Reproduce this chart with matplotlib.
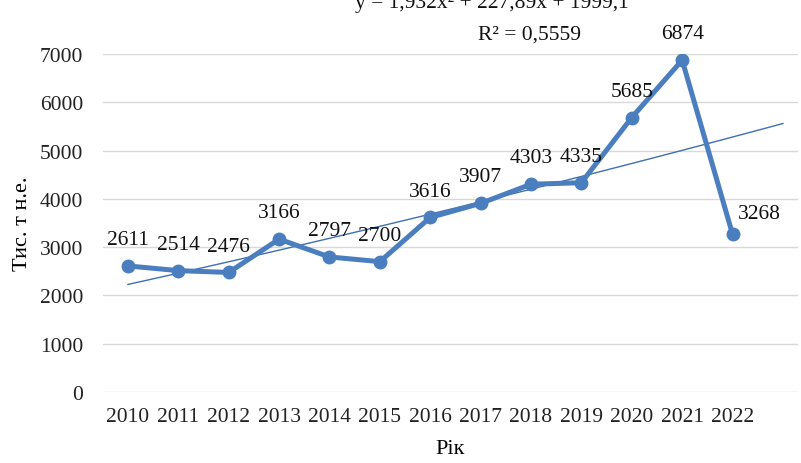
import numpy as np
import matplotlib
matplotlib.use('Agg')
import matplotlib.pyplot as plt

years = ['2010', '2011', '2012', '2013', '2014', '2015', '2016',
         '2017', '2018', '2019', '2020', '2021', '2022']
values = [2611, 2514, 2476, 3166, 2797, 2700, 3616, 3907, 4303, 4335, 5685, 6874, 3268]
yticks = [0, 1000, 2000, 3000, 4000, 5000, 6000, 7000]

plt.rcParams['font.family'] = ['Liberation Serif', 'DejaVu Serif']

fig = plt.figure(figsize=(8.01, 4.64), dpi=100)
ax = fig.add_axes([0.1283, 0.153, 0.868, 0.7284])

x = np.arange(len(years))
line_color = '#4a7ebf'

# polynomial trendline (order 2), x = 1..n as in Excel, one period forward
coef = np.polyfit(x + 1, values, 2)
xt = np.linspace(0, len(years), 100)
ax.plot(xt, np.polyval(coef, xt + 1), color='#3f6fb0', lw=1.0, zorder=2)

ax.plot(x, values, color=line_color, lw=3.6, marker='o', markersize=9, zorder=3)

for i, v in enumerate(values):
    if i == len(values) - 1:
        ax.annotate(str(v), (i, v), xytext=(19, 15), textcoords='offset points',
                    ha='center', va='center', fontsize=15.5, color='#111111')
    else:
        ax.annotate(str(v), (i, v), xytext=(0, 19), textcoords='offset points',
                    ha='center', va='center', fontsize=15.5, color='#111111')

ax.set_xlim(-0.5, 13.3)
ax.set_ylim(0, 7000)
ax.set_xticks(x)
ax.set_xticklabels(years)
ax.set_yticks(yticks)
ax.tick_params(length=0, labelsize=15.5, colors='#222222')
ax.tick_params(axis='x', pad=11)
ax.tick_params(axis='y', pad=14)
ax.grid(axis='y', color='#d9d9d9', lw=1)
ax.set_axisbelow(True)
for s in ax.spines.values():
    s.set_visible(False)

ax.set_xlabel('Рік', fontsize=16, labelpad=9)
ax.set_ylabel('Тис. т н.е.', fontsize=16, labelpad=6)

fig.text(0.614, 1 - 8 / 464, 'y = 1,932x² + 227,89x + 1999,1', ha='center',
         va='baseline', fontsize=15.5, color='#111111')
fig.text(0.597, 1 - 40 / 464, 'R² = 0,5559', ha='left',
         va='baseline', fontsize=15.5, color='#111111')

fig.savefig('out.png', dpi=100)
